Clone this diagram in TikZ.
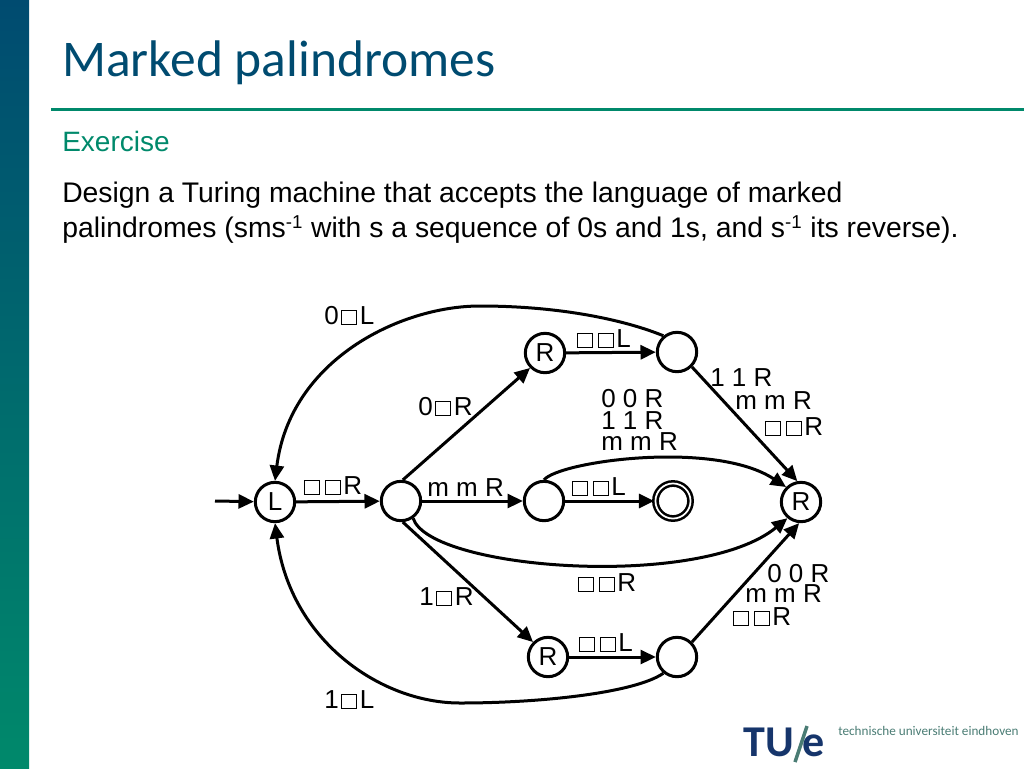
\documentclass[tikz,border=0pt]{standalone}
\usepackage{fontspec}
\setmainfont{Liberation Sans}
\newfontfamily\titlefont{Carlito}
\usetikzlibrary{arrows.meta}
\definecolor{tuedark}{HTML}{004B70}
\definecolor{tuegreen}{HTML}{00896B}
\definecolor{tuenavy}{HTML}{16356B}
\definecolor{tuegrey}{HTML}{4A7C74}
\newcommand{\bx}{\hspace{2pt}{\setlength{\fboxsep}{0pt}\setlength{\fboxrule}{0.6pt}\fbox{\rule{0pt}{10.2pt}\rule{10.6pt}{0pt}}}\hspace{2pt}}
\newcommand{\sups}[1]{\raisebox{6.5pt}{\fontsize{14pt}{14pt}\selectfont #1}\hspace{0.6pt}}
\tikzset{
  state/.style={circle,draw,fill=white,line width=2.25pt,minimum size=29.5pt,inner sep=0pt,font=\fontsize{19.5pt}{19.5pt}\selectfont},
  final/.style={state,double,double distance=1.3pt,line width=1.9pt,minimum size=26.3pt},
  edge/.style={line width=2.25pt,-{Triangle[length=11.5pt,width=10.5pt]}},
  lbl/.style={anchor=base west,inner sep=0pt,font=\fontsize{19.5pt}{16.5pt}\selectfont},
  body/.style={anchor=base west,inner sep=0pt,font=\fontsize{21.25pt}{21.25pt}\selectfont},
}
\begin{document}
\begin{tikzpicture}[x=0.75pt,y=-0.75pt]
\useasboundingbox (0,0) rectangle (1024,768);
\shade[top color=tuedark,bottom color=tuegreen] (0,0) rectangle (29,768);
\fill[tuegreen] (51,107.5) rectangle (1024,110.5);

\node[anchor=base west,inner sep=0pt,text=tuedark,font=\titlefont\fontsize{38.6pt}{38.6pt}\selectfont] (title) at (62,76) {Marked palindromes};
\node[body,text=tuegreen,font=\fontsize{21pt}{21pt}\selectfont] (sub) at (62,151) {Exercise};
\node[body] (line1) at (62,202) {Design a Turing machine that accepts the language of marked};
\node[body] (line2) at (62,237) {palindromes (sms\sups{-1} with s a sequence of 0s and 1s, and s\sups{-1} its reverse).};

% states
\node[state] (l) at (275,502) {L};
\node[state] (a) at (401,501) {};
\node[state] (rt) at (545,353) {R};
\node[state] (bt) at (677,352) {};
\node[state] (m) at (544,501) {};
\node[final] (acc) at (673,501) {};
\node[state] (rr) at (801,502) {R};
\node[state] (rb) at (548,657) {R};
\node[state] (bb) at (677,657) {};
\coordinate (start) at (215,501);

% transitions
\draw[edge] (start) -- (l);
\draw[edge] (l) -- (a);
\draw[edge] (a.85) -- (rt.225);
\draw[edge] (a) -- (m);
\draw[edge] (a.-85) -- (rb.135);
\draw[edge] (rt) -- (bt);
\draw[edge] (m) -- (acc);
\draw[edge] (rb) -- (bb);
\draw[edge] (bt.-45) -- (rr.100);
\draw[edge] (bb.45) -- (rr.-95);
\draw[edge] (bt.130) .. controls (625,320) and (560,306) .. (480,306) .. controls (400,306) and (290,360) .. (l.north);
\draw[edge] (bb.230) .. controls (635,693) and (540,703) .. (460,703) .. controls (380,703) and (290,640) .. (l.south);
\draw[edge] (m.90) .. controls (560,461) and (715,440) .. (rr.135);
\draw[edge] (a.-55) .. controls (430,570) and (700,590) .. (rr.-130);

% labels
\node[lbl] (t1) at (324,324) {0\bx L};
\node[lbl] (t2) at (418,415) {0\bx R};
\node[lbl] (t3) at (574,347) {\bx\bx L};
\node[lbl] (t4) at (710,386) {1 1 R};
\node[lbl] (t5) at (735,409) {m m R};
\node[lbl] (t6) at (762,435) {\bx\bx R};
\node[lbl] (t7) at (601,407) {0 0 R};
\node[lbl] (t8) at (601,429) {1 1 R};
\node[lbl] (t9) at (601,450) {m m R};
\node[lbl] (t10) at (301,494) {\bx\bx R};
\node[lbl] (t11) at (427,496) {m m R};
\node[lbl] (t12) at (569,495) {\bx\bx L};
\node[lbl] (t13) at (575,591) {\bx\bx R};
\node[lbl] (t14) at (419,605) {1\bx R};
\node[lbl] (t15) at (576,651) {\bx\bx L};
\node[lbl] (t16) at (767,582) {0 0 R};
\node[lbl] (t17) at (745,602) {m m R};
\node[lbl] (t18) at (730,625) {\bx\bx R};
\node[lbl] (t19) at (324,708) {1\bx L};

% logo
\node[anchor=base west,inner sep=0pt,text=tuenavy,font=\titlefont\bfseries\fontsize{33pt}{33pt}\selectfont] (tu) at (743,756) {TU};
\node[anchor=base west,inner sep=0pt,text=tuenavy,font=\titlefont\bfseries\fontsize{33pt}{33pt}\selectfont] (e) at (802,756) {e};
\coordinate (s1) at (807,726);
\coordinate (s2) at (795,762);
\draw[tuegrey,line width=2.6pt] (s1) -- (s2);
\node[anchor=base west,inner sep=0pt,text=tuegrey,font=\titlefont\fontsize{9.9pt}{9.9pt}\selectfont] (uni) at (838,735) {technische universiteit eindhoven};
\end{tikzpicture}
\end{document}
